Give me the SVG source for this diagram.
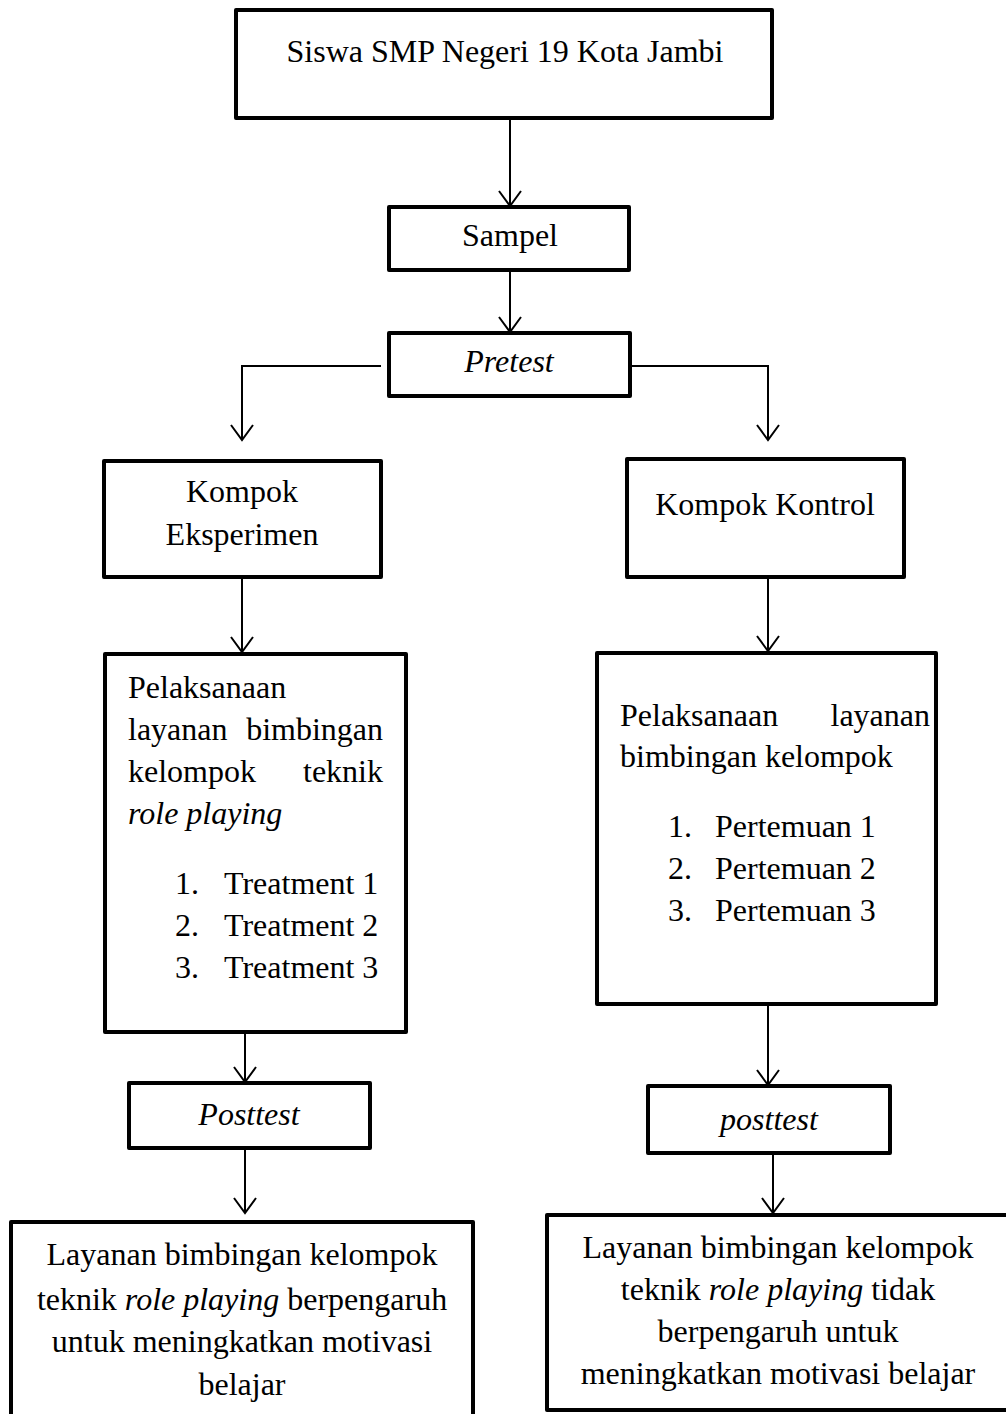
<svg xmlns="http://www.w3.org/2000/svg" width="1006" height="1414" viewBox="0 0 1006 1414">
<style>
.box{fill:#fff;stroke:#000;stroke-width:4;stroke-linejoin:round}
text{font-family:"Liberation Serif","Times New Roman",serif;font-size:32px;fill:#000}
.c{text-anchor:middle}
.e{text-anchor:end}
.i{font-style:italic}
.ln{fill:none;stroke:#000;stroke-width:2}
</style>
<defs>
<marker id="arr" markerWidth="20" markerHeight="24" refX="16" refY="12" orient="auto" markerUnits="userSpaceOnUse" viewBox="0 0 20 24">
<path d="M1,1 L16,12 L1,23" fill="none" stroke="#000" stroke-width="2"/>
</marker>
</defs>
<rect width="1006" height="1414" fill="#fff"/>
<g id="connectors">
<line class="ln" x1="510" y1="120" x2="510" y2="206" marker-end="url(#arr)"/>
<line class="ln" x1="510" y1="272" x2="510" y2="332" marker-end="url(#arr)"/>
<polyline class="ln" points="381,366 242,366 242,440" marker-end="url(#arr)"/>
<polyline class="ln" points="632,366 768,366 768,440" marker-end="url(#arr)"/>
<line class="ln" x1="242" y1="579" x2="242" y2="652" marker-end="url(#arr)"/>
<line class="ln" x1="768" y1="579" x2="768" y2="651" marker-end="url(#arr)"/>
<line class="ln" x1="245" y1="1034" x2="245" y2="1082" marker-end="url(#arr)"/>
<line class="ln" x1="245" y1="1150" x2="245" y2="1213" marker-end="url(#arr)"/>
<line class="ln" x1="768" y1="1006" x2="768" y2="1085" marker-end="url(#arr)"/>
<line class="ln" x1="773" y1="1155" x2="773" y2="1213" marker-end="url(#arr)"/>
</g>
<g id="n-siswa">
<rect class="box" x="236" y="10" width="536" height="108"/>
<text class="c" x="505" y="62">Siswa SMP Negeri 19 Kota Jambi</text>
</g>
<g id="n-sampel">
<rect class="box" x="389" y="207" width="240" height="63"/>
<text class="c" x="510" y="246">Sampel</text>
</g>
<g id="n-pretest">
<rect class="box" x="389" y="333" width="241" height="63"/>
<text class="c i" x="509" y="372">Pretest</text>
</g>
<g id="n-eksperimen">
<rect class="box" x="104" y="461" width="277" height="116"/>
<text class="c" x="242" y="502">Kompok</text>
<text class="c" x="242" y="545">Eksperimen</text>
</g>
<g id="n-kontrol">
<rect class="box" x="627" y="459" width="277" height="118"/>
<text class="c" x="765" y="515">Kompok Kontrol</text>
</g>
<g id="n-pelaksanaan-eksperimen">
<rect class="box" x="105" y="654" width="301" height="378"/>
<text x="128" y="698">Pelaksanaan</text>
<text x="128" y="740">layanan</text>
<text class="e" x="383" y="740">bimbingan</text>
<text x="128" y="782">kelompok</text>
<text class="e" x="383" y="782">teknik</text>
<text class="i" x="128" y="824">role playing</text>
<text x="175" y="894">1.</text>
<text x="224" y="894">Treatment 1</text>
<text x="175" y="936">2.</text>
<text x="224" y="936">Treatment 2</text>
<text x="175" y="978">3.</text>
<text x="224" y="978">Treatment 3</text>
</g>
<g id="n-pelaksanaan-kontrol">
<rect class="box" x="597" y="653" width="339" height="351"/>
<text x="620" y="726">Pelaksanaan</text>
<text class="e" x="930" y="726">layanan</text>
<text x="620" y="767">bimbingan kelompok</text>
<text x="668" y="837">1.</text>
<text x="715" y="837">Pertemuan 1</text>
<text x="668" y="879">2.</text>
<text x="715" y="879">Pertemuan 2</text>
<text x="668" y="921">3.</text>
<text x="715" y="921">Pertemuan 3</text>
</g>
<g id="n-posttest-eksperimen">
<rect class="box" x="129" y="1083" width="241" height="65"/>
<text class="c i" x="249" y="1125">Posttest</text>
</g>
<g id="n-posttest-kontrol">
<rect class="box" x="648" y="1086" width="242" height="67"/>
<text class="c i" x="769" y="1130">posttest</text>
</g>
<g id="n-hasil-eksperimen">
<rect class="box" x="11" y="1222" width="462" height="200"/>
<text class="c" x="242" y="1265">Layanan bimbingan kelompok</text>
<text class="c" x="242" y="1310">teknik <tspan class="i">role playing</tspan> berpengaruh</text>
<text class="c" x="242" y="1352">untuk meningkatkan motivasi</text>
<text class="c" x="242" y="1395">belajar</text>
</g>
<g id="n-hasil-kontrol">
<rect class="box" x="547" y="1215" width="470" height="195"/>
<text class="c" x="778" y="1258">Layanan bimbingan kelompok</text>
<text class="c" x="778" y="1300">teknik <tspan class="i">role playing</tspan> tidak</text>
<text class="c" x="778" y="1342">berpengaruh untuk</text>
<text class="c" x="778" y="1384">meningkatkan motivasi belajar</text>
</g>
</svg>
